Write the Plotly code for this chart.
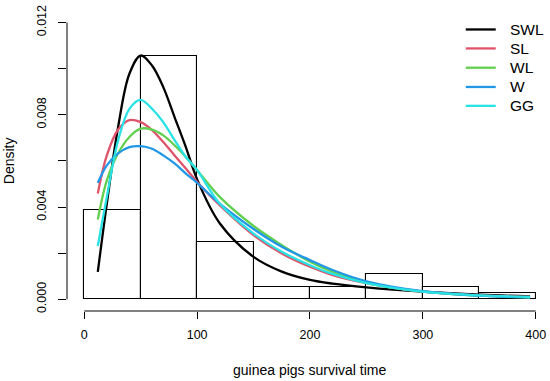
import plotly.graph_objects as go

# Histogram (density scale)
bin_edges = [0, 50, 100, 150, 200, 250, 300, 350, 400]
hist_density = [0.003889, 0.010556, 0.0025, 0.000556, 0.000556, 0.001111, 0.000556, 0.000278]

# Fitted density curves
curve_x = [12, 20, 30, 40, 50, 60, 70, 80, 90, 100, 120, 150, 175, 200, 220, 250, 300, 350, 395]
swl = [0.00119, 0.00415, 0.00747, 0.00978, 0.01057, 0.01014, 0.0092, 0.0079, 0.0066, 0.0052,
       0.0033, 0.00184, 0.0012, 0.00084, 0.00068, 0.00052, 0.00033, 0.0002, 0.00013]
sl = [0.00459, 0.00624, 0.00736, 0.00777, 0.00768, 0.00734, 0.00682, 0.00624, 0.00567, 0.00509,
      0.00408, 0.00278, 0.00199, 0.00141, 0.00105, 0.0007, 0.00033, 0.00017, 0.0001]
wl = [0.00346, 0.00516, 0.00633, 0.00704, 0.0074, 0.00736, 0.00711, 0.00668, 0.00617, 0.0056,
      0.00444, 0.00318, 0.00235, 0.00163, 0.0012, 0.00071, 0.00033, 0.00016, 0.00008]
w = [0.00505, 0.00581, 0.00633, 0.0066, 0.00664, 0.00653, 0.00624, 0.00589, 0.00545, 0.00505,
     0.00415, 0.00305, 0.00228, 0.0017, 0.00127, 0.00078, 0.00035, 0.00016, 0.00007]
gg = [0.00231, 0.00444, 0.00689, 0.00826, 0.00865, 0.00826, 0.00768, 0.0069, 0.00617, 0.0056,
      0.00415, 0.00285, 0.00206, 0.00148, 0.0011, 0.0007, 0.00033, 0.00017, 0.0001]

series_names = ["SWL", "SL", "WL", "W", "GG"]
series_values = [swl, sl, wl, w, gg]
series_colors = ["#000000", "#DF536B", "#61D04F", "#2297E6", "#28E2E5"]

x_ticks = [0, 100, 200, 300, 400]
y_ticks = [0.000, 0.002, 0.004, 0.006, 0.008, 0.010, 0.012]
y_ticklabels = ["0.000", "", "0.004", "", "0.008", "", "0.012"]

FONT = "Liberation Sans, Arial, Helvetica, sans-serif"

# figure geometry (page body margin removed via post_script)
W_FIG, H_FIG = 550, 381
M_L, M_R, M_T, M_B = 66.7, 3, 10.5, 70
PW = W_FIG - M_L - M_R
PH = H_FIG - M_T - M_B


def px_to_paper(px, py):
    return (px - M_L) / PW, 1 - (py - M_T) / PH


fig = go.Figure()

centers = [(a + b) / 2 for a, b in zip(bin_edges[:-1], bin_edges[1:])]
widths = [b - a for a, b in zip(bin_edges[:-1], bin_edges[1:])]
fig.add_trace(go.Bar(
    x=centers, y=hist_density, width=widths,
    marker=dict(color="rgba(0,0,0,0)", line=dict(color="#000000", width=1.1)),
    showlegend=False, hoverinfo="skip",
))

for name, vals, col in zip(series_names, series_values, series_colors):
    fig.add_trace(go.Scatter(
        x=curve_x, y=vals, mode="lines", name=name, showlegend=False,
        line=dict(color=col, width=2.3, shape="spline", smoothing=1.0),
    ))

shapes = [
    dict(type="line", xref="x", yref="paper", x0=x_ticks[0], x1=x_ticks[-1], y0=0, y1=0,
         line=dict(color="#000000", width=1)),
    dict(type="line", xref="paper", yref="y", x0=0, x1=0, y0=y_ticks[0], y1=y_ticks[-1],
         line=dict(color="#000000", width=1)),
]
annotations = [
    dict(text="guinea pigs survival time", xref="x", yref="paper", x=200, y=0,
         yshift=-58.5, showarrow=False, xanchor="center", yanchor="middle",
         font=dict(size=14)),
    dict(text="Density", xref="paper", yref="y", x=0, y=0.006, xshift=-57.7,
         showarrow=False, textangle=-90, xanchor="center", yanchor="middle",
         font=dict(size=14)),
]

# manual legend (R style)
leg_rows_py = [29, 48, 67.3, 86.6, 105.5]
for name, col, py in zip(series_names, series_colors, leg_rows_py):
    x0, yy = px_to_paper(465.7, py)
    x1, _ = px_to_paper(495.7, py)
    xt, _ = px_to_paper(508, py)
    shapes.append(dict(type="line", xref="paper", yref="paper", x0=x0, x1=x1, y0=yy, y1=yy,
                       line=dict(color=col, width=2.3)))
    annotations.append(dict(text=name, xref="paper", yref="paper", x=xt, y=yy,
                            showarrow=False, xanchor="left", yanchor="middle",
                            font=dict(size=15.5)))

fig.update_layout(
    width=W_FIG, height=H_FIG,
    margin=dict(l=M_L, r=M_R, t=M_T, b=M_B, pad=0),
    paper_bgcolor="white", plot_bgcolor="white",
    font=dict(family=FONT, size=12.5, color="#000000"),
    bargap=0,
    showlegend=False,
    xaxis=dict(
        range=[-15.3, 410], showgrid=False, zeroline=False, showline=False,
        tickmode="array", tickvals=x_ticks, ticktext=[str(v) for v in x_ticks],
        ticks="outside", ticklen=7, tickwidth=1, tickcolor="#000000",
        tickfont=dict(size=12.5), ticklabelstandoff=5,
    ),
    yaxis=dict(
        range=[-0.000506, 0.0125], showgrid=False, zeroline=False, showline=False,
        tickmode="array", tickvals=y_ticks, ticktext=y_ticklabels,
        ticks="outside", ticklen=8, tickwidth=1, tickcolor="#000000",
        tickangle=-90, tickfont=dict(size=12.5), ticklabelstandoff=7,
    ),
    shapes=shapes,
    annotations=annotations,
)

fig.write_html(
    "out.html",
    config={"displayModeBar": False},
    post_script="document.body.style.margin='0';document.body.style.overflow='hidden';",
)
